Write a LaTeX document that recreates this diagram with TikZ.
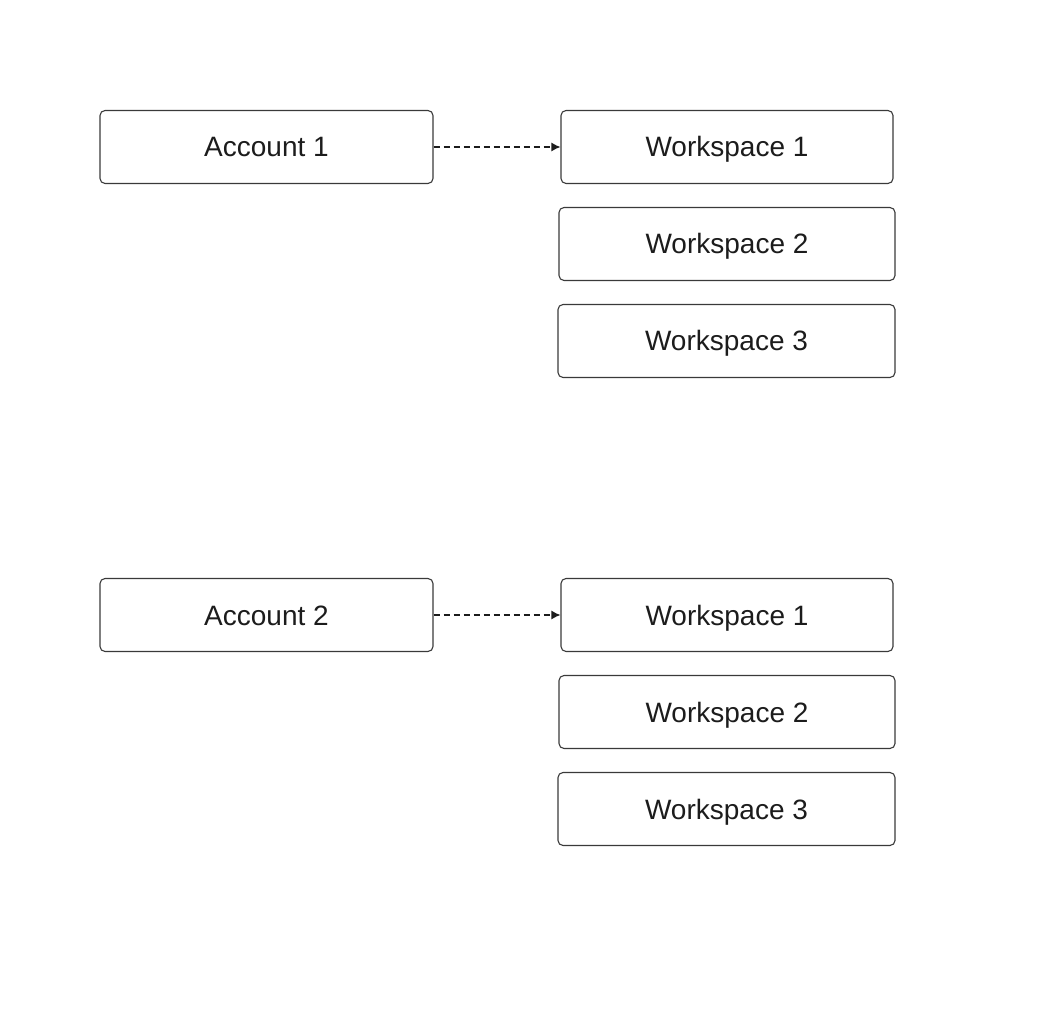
\documentclass[tikz,border=0pt]{standalone}
\usepackage{fontspec}
\setmainfont{Liberation Sans}
\usetikzlibrary{arrows.meta}
\definecolor{boxline}{HTML}{3A3A3A}
\definecolor{boxtext}{HTML}{1C1C1C}

\begin{document}
\begin{tikzpicture}[x=1pt,y=-1pt,
  box/.style={draw=boxline,line width=1.1pt,rounded corners=5pt,
    minimum height=73pt,inner sep=0pt,text=boxtext,
    text height=20pt,text depth=0pt,
    font=\fontsize{28}{32}\selectfont},
  link/.style={draw=boxtext,line width=1.3pt,dash pattern=on 6pt off 4pt,
    -{Latex[length=9pt,width=9pt]}}]
\useasboundingbox (0,0) rectangle (1042,1024);
\foreach \g/\n/\y in {a/1/147,b/2/615} {
  \node[box,minimum width=333pt] (acc\g) at (266.5,\y) {Account \n};
  \foreach \i/\dy/\w/\cx in {1/0/332/727,2/97/336/727,3/194/337/726.5} {
    \node[box,minimum width=\w pt] (ws\g\i) at (\cx,\y+\dy) {Workspace \i}; }
  \draw[link] (acc\g) -- (ws\g1);
}
\end{tikzpicture}
\end{document}
